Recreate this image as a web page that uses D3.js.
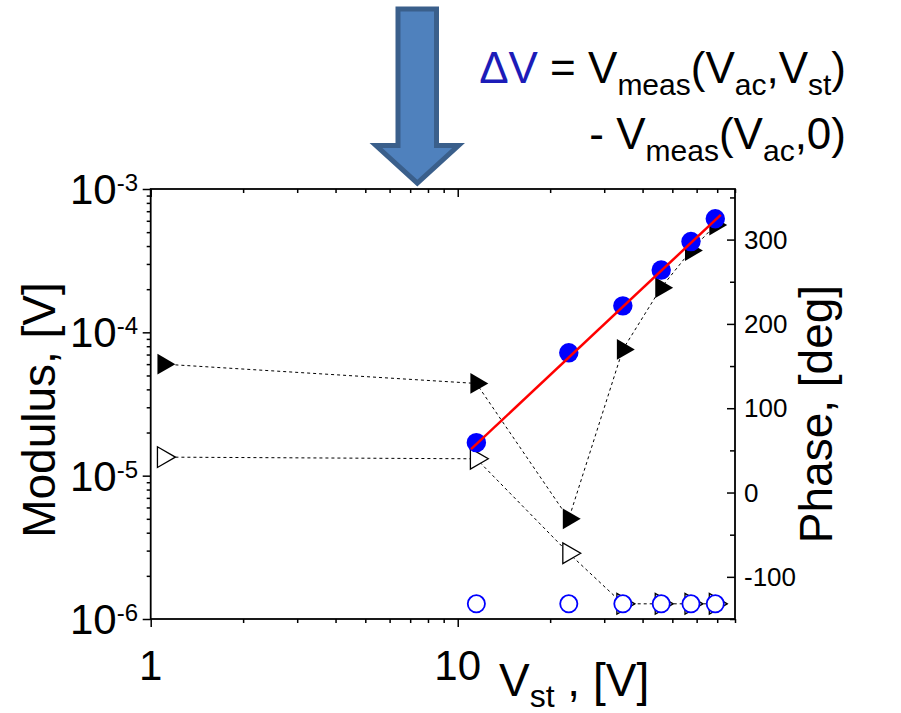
<!DOCTYPE html>
<html>
<head>
<meta charset="utf-8">
<script src="https://cdn.jsdelivr.net/npm/d3@7"></script>
<style>
  body { margin: 0; background: #fff; }
  text { font-family: "Liberation Sans", Arial, sans-serif; fill: #000; white-space: pre; }
</style>
</head>
<body>
<svg id="chart" width="901" height="713"></svg>
<script>
// filled circles = modulus, open circles = phase
let vst = [11.5, 23, 34.5, 46, 57.5, 69]
let modulus = [1.7e-5, 7.2e-5, 1.53e-4, 2.72e-4, 4.3e-4, 6.2e-4]
let phase = [-132, -132, -132, -132, -132, -132]

// triangles (filled = modulus, open = phase)
let triVst = [1.1, 11.5, 23, 34.5, 46, 57.5, 69]
let triModulus = [6.0e-5, 4.4e-5, 5.0e-6, 7.6e-5, 2.05e-4, 3.72e-4, 5.6e-4]
let triPhase = [42, 40, -72, -132, -132, -132, -132]

// power-law fit (red line)
let fitVst = [11.05, 71.9]
let fitModulus = [1.53e-5, 6.6e-4]

let xMajor = [1, 10]
let xMinor = [2, 3, 4, 5, 6, 7, 8, 9, 20, 30, 40, 50, 60, 70, 80]
let yMajor = [1e-6, 1e-5, 1e-4, 1e-3]
let yExp = [-6, -5, -4, -3]
let yMinor = []
;[1e-6, 1e-5, 1e-4].forEach(d => { for (let k = 2; k <= 9; k++) yMinor.push(d * k) })
let phaseMajor = [-100, 0, 100, 200, 300]
let phaseMinor = [-150, -50, 50, 150, 250, 350]

let padLeft = 150.7, padRight = 735, padTop = 189, padBottom = 619

let svg = d3.select("#chart")

let xScale = d3.scaleLog().domain([1, 80]).range([padLeft, padRight])
let yScale = d3.scaleLog().domain([1e-6, 1e-3]).range([padBottom, padTop])
let pScale = d3.scaleLinear().domain([-150, 360]).range([padBottom, padTop])

// ---- axes (ticks only, labels drawn by hand) ----
let tickAxis = (axis, tr) => {
  let g = svg.append("g").attr("transform", tr).call(axis)
  g.select(".domain").remove()
  g.selectAll("line").attr("stroke", "#000").attr("stroke-width", 1.5)
  g.selectAll("text").remove()
}
tickAxis(d3.axisBottom(xScale).tickValues(xMajor).tickSize(8), `translate(0,${padBottom})`)
tickAxis(d3.axisBottom(xScale).tickValues(xMinor).tickSize(4), `translate(0,${padBottom})`)
tickAxis(d3.axisTop(xScale).tickValues(xMajor).tickSize(-8), `translate(0,${padTop})`)
tickAxis(d3.axisTop(xScale).tickValues(xMinor).tickSize(-4), `translate(0,${padTop})`)
tickAxis(d3.axisLeft(yScale).tickValues(yMajor).tickSize(8), `translate(${padLeft},0)`)
tickAxis(d3.axisLeft(yScale).tickValues(yMinor).tickSize(4), `translate(${padLeft},0)`)
tickAxis(d3.axisRight(pScale).tickValues(phaseMajor).tickSize(-8), `translate(${padRight},0)`)
tickAxis(d3.axisRight(pScale).tickValues(phaseMinor).tickSize(-5), `translate(${padRight},0)`)

svg.append("rect")
   .attr("x", padLeft).attr("y", padTop)
   .attr("width", padRight - padLeft).attr("height", padBottom - padTop)
   .attr("fill", "none").attr("stroke", "#000").attr("stroke-width", 1.8)

// tick labels
let yl = svg.append("g").selectAll("text").data(yMajor).enter().append("text")
   .attr("x", 138)
   .attr("y", d => yScale(d) + 15)
   .attr("text-anchor", "end")
   .style("font-size", "42px")
yl.append("tspan").text("10")
yl.append("tspan").attr("dy", -13).style("font-size", "24px").text((d, i) => yExp[i])

svg.append("g").selectAll("text").data(xMajor).enter().append("text")
   .attr("x", d => xScale(d))
   .attr("y", 680)
   .attr("text-anchor", "middle")
   .style("font-size", "42px")
   .text(d => d)

svg.append("g").selectAll("text").data(phaseMajor).enter().append("text")
   .attr("x", 744)
   .attr("y", d => pScale(d) + 9)
   .style("font-size", "26px")
   .text(d => d)

// axis titles
svg.append("text")
   .attr("transform", "translate(55,410) rotate(-90)")
   .attr("text-anchor", "middle")
   .style("font-size", "46px")
   .text("Modulus, [V]")

svg.append("text")
   .attr("transform", "translate(832,414) rotate(-90)")
   .attr("text-anchor", "middle")
   .style("font-size", "46px")
   .text("Phase, [deg]")

let xt = svg.append("text").attr("x", 499).attr("y", 696).style("font-size", "46px")
xt.append("tspan").text("V")
xt.append("tspan").attr("dy", 11).style("font-size", "32px").text("st")
xt.append("tspan").attr("dy", -11).text(" , [V]")

// ---- data ----
let line = d3.line()
let triMod = triVst.map((v, i) => [xScale(v), yScale(triModulus[i])])
let triPh = triVst.map((v, i) => [xScale(v), pScale(triPhase[i])])

svg.append("path").attr("d", line(triMod))
   .attr("fill", "none").attr("stroke", "#000").attr("stroke-width", 1).attr("stroke-dasharray", "3,3")
svg.append("path").attr("d", line(triPh))
   .attr("fill", "none").attr("stroke", "#000").attr("stroke-width", 1).attr("stroke-dasharray", "3,3")

let tri = d3.symbol().type(d3.symbolTriangle).size(185)
svg.append("g").selectAll("path").data(triPh).enter().append("path")
   .attr("d", tri)
   .attr("transform", d => `translate(${d[0]},${d[1]}) rotate(90)`)
   .attr("fill", "#fff").attr("stroke", "#000").attr("stroke-width", 1.3)
svg.append("g").selectAll("path").data(triMod).enter().append("path")
   .attr("d", tri)
   .attr("transform", d => `translate(${d[0]},${d[1]}) rotate(90)`)
   .attr("fill", "#000")

svg.append("g").selectAll("circle").data(vst).enter().append("circle")
   .attr("cx", d => xScale(d))
   .attr("cy", (d, i) => pScale(phase[i]))
   .attr("r", 8.6)
   .attr("fill", "#fff").attr("stroke", "#0000ff").attr("stroke-width", 1.8)

svg.append("g").selectAll("circle").data(vst).enter().append("circle")
   .attr("cx", d => xScale(d))
   .attr("cy", (d, i) => yScale(modulus[i]))
   .attr("r", 9.7)
   .attr("fill", "#0000ff")

svg.append("path")
   .attr("d", line(fitVst.map((v, i) => [xScale(v), yScale(fitModulus[i])])))
   .attr("fill", "none").attr("stroke", "#ff0000").attr("stroke-width", 2.5)

// ---- annotation: arrow + formula ----
svg.append("path")
   .attr("d", "M398,9 L436.5,9 L436.5,145.5 L458.5,145.5 L417.3,183 L376,145.5 L398,145.5 Z")
   .attr("fill", "#4f81bd").attr("stroke", "#3a5f8b").attr("stroke-width", 5)
   .attr("stroke-linejoin", "miter")

let f1 = svg.append("text").attr("x", 846).attr("y", 83).attr("text-anchor", "end").style("font-size", "44px")
f1.append("tspan").style("fill", "#1c1cb8").text("\u0394V")
f1.append("tspan").text(" = V")
f1.append("tspan").attr("dy", 12).style("font-size", "30px").text("meas")
f1.append("tspan").attr("dy", -12).text("(V")
f1.append("tspan").attr("dy", 12).style("font-size", "30px").text("ac")
f1.append("tspan").attr("dy", -12).text(",V")
f1.append("tspan").attr("dy", 12).style("font-size", "30px").text("st")
f1.append("tspan").attr("dy", -12).text(")")

let f2 = svg.append("text").attr("x", 846).attr("y", 149).attr("text-anchor", "end").style("font-size", "44px")
f2.append("tspan").text("- V")
f2.append("tspan").attr("dy", 12).style("font-size", "30px").text("meas")
f2.append("tspan").attr("dy", -12).text("(V")
f2.append("tspan").attr("dy", 12).style("font-size", "30px").text("ac")
f2.append("tspan").attr("dy", -12).text(",0)")
</script>
</body>
</html>
